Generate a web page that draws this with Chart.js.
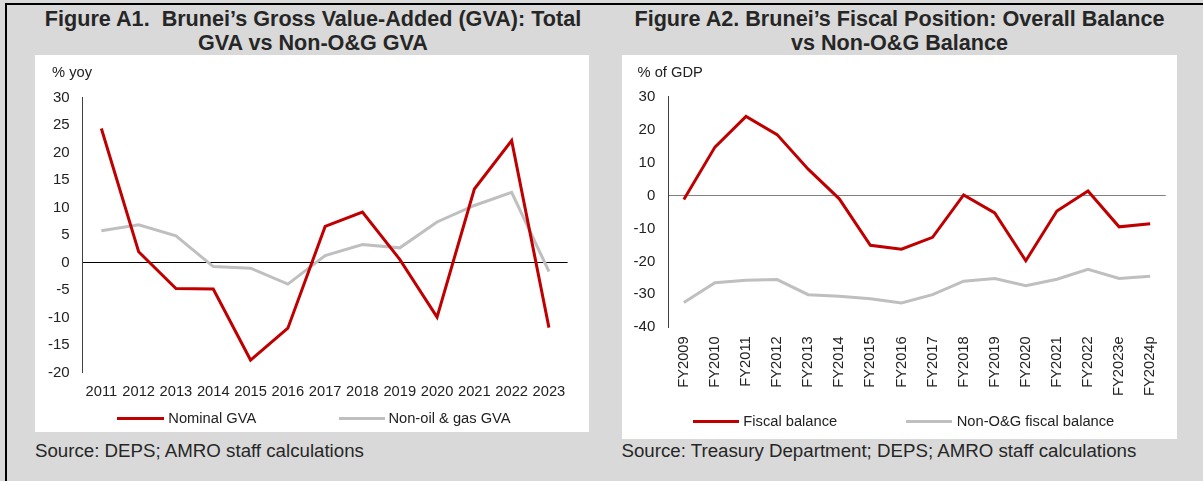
<!DOCTYPE html>
<html>
<head>
<meta charset="utf-8">
<script src="https://cdn.jsdelivr.net/npm/chart.js@4.4.1/dist/chart.umd.min.js"></script>
<style>
    body {
        margin: 0;
        width: 1203px;
        height: 481px;
        background: #d9d9d9;
        position: relative;
        overflow: hidden;
        font-family: "Liberation Sans", Arial, sans-serif;
        color: #262626;
    }
    #frame { position: absolute; left: 5px; top: 3px; right: 0; bottom: 0; border-left: 2px solid #000; border-top: 2px solid #000; }
    .panel { position: absolute; top: 55px; background: #fff; }
    .title { position: absolute; top: 7px; font-weight: bold; font-size: 21.6px; line-height: 24px; text-align: center; white-space: pre; }
    .source { position: absolute; top: 441px; font-size: 18.7px; line-height: 20px; white-space: nowrap; }
    .unit { position: absolute; top: 64px; font-size: 14.7px; line-height: 16px; color: #222; }
    .key { position: absolute; height: 3px; }
    .key-text { position: absolute; font-size: 14.7px; line-height: 18px; color: #222; white-space: nowrap; }
</style>
</head>
<body>
<div id="frame"></div>

<div class="title" style="left:35px; width:556px;">Figure A1.  Brunei’s Gross Value-Added (GVA): Total
GVA vs Non-O&amp;G GVA</div>
<div class="title" style="left:622px; width:555px;">Figure A2. Brunei’s Fiscal Position: Overall Balance
vs Non-O&amp;G Balance</div>

<div class="panel" style="left:35px; width:554px; height:377px;"><canvas id="gva-chart"></canvas></div>
<div class="panel" style="left:622px; width:555px; height:384px;"><canvas id="fiscal-chart"></canvas></div>

<div class="unit" style="left:52px;">% yoy</div>
<div class="unit" style="left:637.5px;">% of GDP</div>

<div class="source" style="left:35px;">Source: DEPS; AMRO staff calculations</div>
<div class="source" style="left:621.5px;">Source: Treasury Department; DEPS; AMRO staff calculations</div>

<script>
// Figure A1 - GVA growth, % yoy
const gva_years = ["2011", "2012", "2013", "2014", "2015", "2016", "2017", "2018", "2019", "2020", "2021", "2022", "2023"];
const nominal_gva = [24.4, 2.0, -4.7, -4.8, -17.7, -11.9, 6.6, 9.2, 0.6, -9.9, 13.4, 22.2, -11.8];
const non_og_gva = [5.8, 6.9, 4.9, -0.7, -1.0, -3.9, 1.3, 3.3, 2.7, 7.4, 10.4, 12.8, -1.6];
const gva_ticks = { min: -20, max: 30, step: 5 };

// Figure A2 - fiscal balance, % of GDP
const fiscal_years = ["FY2009", "FY2010", "FY2011", "FY2012", "FY2013", "FY2014", "FY2015", "FY2016",
    "FY2017", "FY2018", "FY2019", "FY2020", "FY2021", "FY2022", "FY2023e", "FY2024p"];
const fiscal_balance = [-1.2, 14.7, 24.0, 18.5, 8.0, -1.0, -15.1, -16.3, -12.7, 0.2, -5.3, -19.8, -4.7, 1.4, -9.5, -8.6];
const non_og_balance = [-32.5, -26.5, -25.7, -25.5, -30.1, -30.6, -31.3, -32.6, -30.1, -26.0, -25.2, -27.4, -25.4, -22.4, -25.2, -24.5];
const fiscal_ticks = { min: -40, max: 30, step: 10 };

const RED = "#c00000";
const GREY = "#bfbfbf";

Chart.defaults.font.family = "'Liberation Sans', Arial, sans-serif";
Chart.defaults.font.size = 14.7;
Chart.defaults.color = "#222";

function line_dataset(label, data, color) {
    return {
        label: label,
        data: data,
        borderColor: color,
        backgroundColor: color,
        borderWidth: 3,
        pointRadius: 0,
        tension: 0,
        fill: false
    };
}

function make_chart(canvas_id, labels, datasets, ticks, layout) {
    return new Chart(document.getElementById(canvas_id), {
        type: "line",
        data: { labels: labels, datasets: datasets },
        options: {
            responsive: true,
            maintainAspectRatio: false,
            animation: false,
            layout: { padding: layout.padding },
            plugins: {
                legend: { display: false },
                tooltip: { enabled: false }
            },
            scales: {
                x: {
                    offset: true,
                    grid: { display: false, drawTicks: false },
                    border: { display: false },
                    ticks: {
                        autoSkip: false,
                        padding: layout.x_pad,
                        minRotation: layout.rotation,
                        maxRotation: layout.rotation
                    },
                    afterFit: function(scale) { scale.height = layout.x_height; }
                },
                y: {
                    min: ticks.min,
                    max: ticks.max,
                    grid: {
                        drawTicks: false,
                        lineWidth: 1,
                        color: (ctx) => ctx.tick && ctx.tick.value === 0 ? layout.zero_color : "rgba(0,0,0,0)"
                    },
                    border: { display: true, color: "#404040", width: 1 },
                    ticks: { stepSize: ticks.step, padding: 13, font: { size: 15 } },
                    afterFit: function(scale) { scale.width = layout.y_width; }
                }
            }
        }
    });
}

// html legend, one row under each chart
function html_legend(chart, keys_x, texts_x, key_width, y) {
    chart.data.datasets.forEach((ds, i) => {
        let key = document.createElement("div");
        key.className = "key";
        key.style.left = keys_x[i] + "px";
        key.style.top = (y - 1.5) + "px";
        key.style.width = key_width + "px";
        key.style.background = ds.borderColor;
        document.body.appendChild(key);

        let text = document.createElement("div");
        text.className = "key-text";
        text.style.left = texts_x[i] + "px";
        text.style.top = (y - 9) + "px";
        text.textContent = ds.label;
        document.body.appendChild(text);
    });
}

const gva_chart = make_chart("gva-chart", gva_years, [
    line_dataset("Nominal GVA", nominal_gva, RED),
    line_dataset("Non-oil & gas GVA", non_og_gva, GREY)
], gva_ticks, {
    padding: { top: 42.7, right: 21.4, left: 0, bottom: 0 },
    y_width: 47.7,
    x_height: 59.3,
    x_pad: 10,
    rotation: 0,
    zero_color: "#000"
});

const fiscal_chart = make_chart("fiscal-chart", fiscal_years, [
    line_dataset("Fiscal balance", fiscal_balance, RED),
    line_dataset("Non-O&G fiscal balance", non_og_balance, GREY)
], fiscal_ticks, {
    padding: { top: 41.7, right: 6.3, left: 0, bottom: 0 },
    y_width: 46.3,
    x_height: 111.7,
    x_pad: 9,
    rotation: 90,
    zero_color: "#808080"
});

html_legend(gva_chart, [117.3, 338.7], [168.3, 388.4], 46.5, 418.3);
html_legend(fiscal_chart, [693.3, 906], [743.3, 956.7], 46, 421);
</script>
</body>
</html>
